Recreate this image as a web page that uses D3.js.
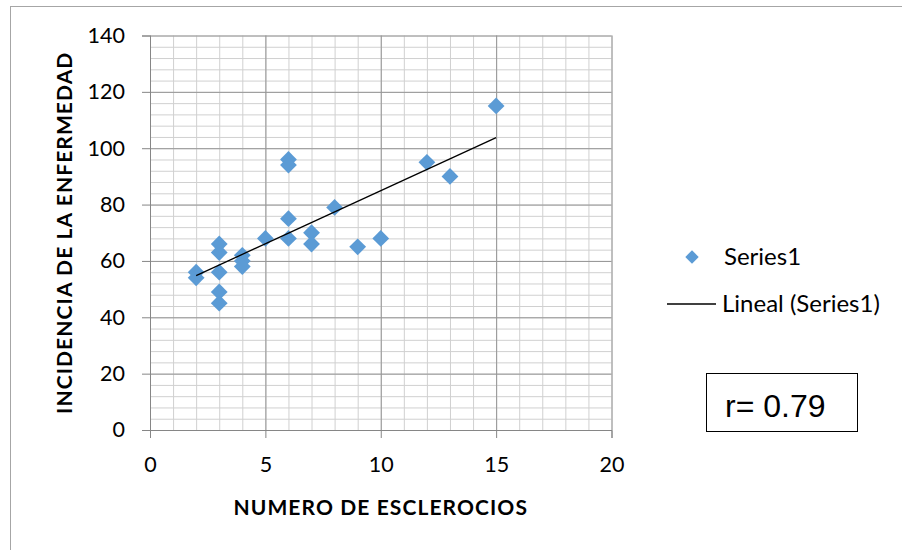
<!DOCTYPE html>
<html>
<head>
<meta charset="utf-8">
<script src="https://cdn.jsdelivr.net/npm/d3@7"></script>
<style>
  body { margin: 0; background: #fff; }
  text { font-family: Lato, "Open Sans", sans-serif; fill: #000; }
</style>
</head>
<body>
<div id="chart"></div>
<script>
// datos
var esclerocios = [2, 2, 3, 3, 3, 3, 3, 4, 4, 4, 5, 6, 6, 6, 6, 7, 7, 8, 9, 10, 12, 13, 15];
var incidencia  = [56, 54, 66, 63, 56, 49, 45, 62, 60, 58, 68, 96, 94, 75, 68, 70, 66, 79, 65, 68, 95, 90, 115];
var xTicks = [0, 5, 10, 15, 20];
var yTicks = [0, 20, 40, 60, 80, 100, 120, 140];

var W = 902, H = 550;
var margin = { top: 35.5, left: 150 },
    width = 461.5,
    height = 394.5;

var svg = d3.select("#chart").append("svg")
    .attr("width", W)
    .attr("height", H);

// marco exterior
svg.append("rect")
    .attr("x", 10.5).attr("y", 6.5)
    .attr("width", W).attr("height", H)
    .attr("fill", "none")
    .attr("stroke", "#a6a6a6");

var g = svg.append("g")
    .attr("transform", "translate(" + margin.left + "," + margin.top + ")");

var x = d3.scaleLinear().domain([0, 20]).range([0, width]);
var y = d3.scaleLinear().domain([0, 140]).range([height, 0]);

// rejilla menor
g.append("g")
    .call(d3.axisBottom(x).tickValues(d3.range(0, 21, 1)).tickSize(-height).tickFormat(""))
    .attr("transform", "translate(0," + height + ")")
    .call(function(s) { s.select(".domain").remove(); s.selectAll("line").attr("stroke", "#d0d0d0"); });
g.append("g")
    .call(d3.axisLeft(y).tickValues(d3.range(0, 141, 4)).tickSize(-width).tickFormat(""))
    .call(function(s) { s.select(".domain").remove(); s.selectAll("line").attr("stroke", "#d0d0d0"); });

// rejilla mayor
g.append("g")
    .call(d3.axisBottom(x).tickValues(xTicks).tickSize(-height).tickFormat(""))
    .attr("transform", "translate(0," + height + ")")
    .call(function(s) { s.select(".domain").remove(); s.selectAll("line").attr("stroke", "#969696"); });
g.append("g")
    .call(d3.axisLeft(y).tickValues(yTicks).tickSize(-width).tickFormat(""))
    .call(function(s) { s.select(".domain").remove(); s.selectAll("line").attr("stroke", "#969696"); });

// ejes
var xAxis = g.append("g")
    .attr("transform", "translate(0," + height + ")")
    .call(d3.axisBottom(x).tickValues(xTicks).tickSize(8).tickPadding(19));
var yAxis = g.append("g")
    .call(d3.axisLeft(y).tickValues(yTicks).tickSize(8).tickPadding(17));
[xAxis, yAxis].forEach(function(a) {
    a.select(".domain").attr("stroke", "#868686");
    a.selectAll(".tick line").attr("stroke", "#868686");
    a.selectAll(".tick text").style("font-size", "21.5px").attr("fill", "#000");
});

// linea de tendencia (minimos cuadrados)
var n = esclerocios.length;
var mx = d3.mean(esclerocios), my = d3.mean(incidencia);
var sxy = 0, sxx = 0;
for (var i = 0; i < n; i++) {
    sxy += (esclerocios[i] - mx) * (incidencia[i] - my);
    sxx += (esclerocios[i] - mx) * (esclerocios[i] - mx);
}
var b = sxy / sxx, a0 = my - b * mx;
var xMin = d3.min(esclerocios), xMax = d3.max(esclerocios);

// puntos
var diamond = d3.symbol().type(d3.symbolDiamond2).size(180);
g.selectAll("path.pt")
    .data(esclerocios)
    .enter().append("path")
    .attr("class", "pt")
    .attr("d", diamond)
    .attr("transform", function(d, i) { return "translate(" + x(d) + "," + y(incidencia[i]) + ")"; })
    .attr("fill", "#5b9bd5");

g.append("line")
    .attr("x1", x(xMin)).attr("y1", y(a0 + b * xMin))
    .attr("x2", x(xMax)).attr("y2", y(a0 + b * xMax))
    .attr("stroke", "#000")
    .attr("stroke-width", 1.3);

// titulos de ejes
svg.append("text")
    .attr("x", margin.left + width / 2)
    .attr("y", 515)
    .style("text-anchor", "middle")
    .style("font-size", "21px")
    .style("font-weight", "bold")
    .style("letter-spacing", "1.1px")
    .text("NUMERO DE ESCLEROCIOS");

svg.append("text")
    .attr("transform", "translate(72," + (margin.top + height / 2) + ") rotate(-90)")
    .style("text-anchor", "middle")
    .style("font-size", "21px")
    .style("font-weight", "bold")
    .style("letter-spacing", "1.1px")
    .text("INCIDENCIA DE LA ENFERMEDAD");

// leyenda
svg.append("path")
    .attr("d", d3.symbol().type(d3.symbolDiamond2).size(115))
    .attr("transform", "translate(692,257)")
    .attr("fill", "#5b9bd5");
svg.append("text")
    .attr("x", 724).attr("y", 265)
    .style("font-size", "24px")
    .text("Series1");
svg.append("line")
    .attr("x1", 667).attr("x2", 716)
    .attr("y1", 304).attr("y2", 304)
    .attr("stroke", "#000")
    .attr("stroke-width", 1.3);
svg.append("text")
    .attr("x", 722).attr("y", 312)
    .style("font-size", "24px")
    .text("Lineal (Series1)");

// cuadro r
svg.append("rect")
    .attr("x", 706.5).attr("y", 373.5)
    .attr("width", 151).attr("height", 58)
    .attr("fill", "#fff")
    .attr("stroke", "#000");
svg.append("text")
    .attr("x", 725).attr("y", 417)
    .style("font-family", "'Liberation Sans', Arial, sans-serif")
    .style("font-size", "32px")
    .text("r= 0.79");
</script>
</body>
</html>
